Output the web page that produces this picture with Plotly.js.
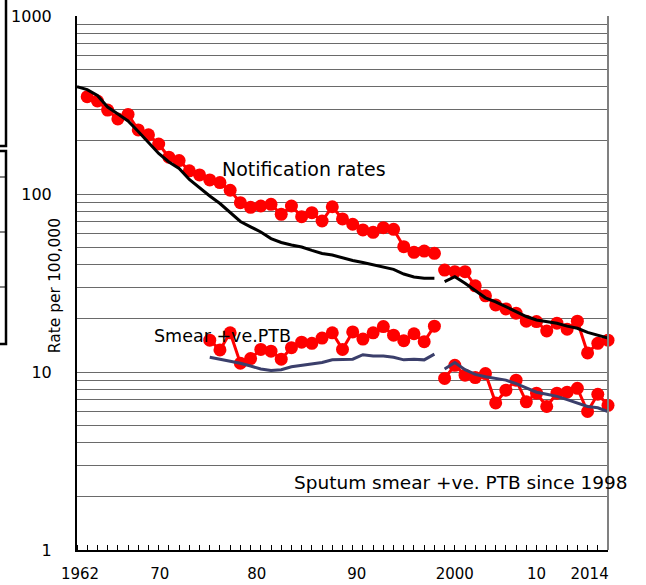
<!DOCTYPE html>
<html>
<head>
<meta charset="utf-8">
<script src="https://cdn.plot.ly/plotly-3.0.1.min.js"></script>
<style>html,body{margin:0;padding:0;background:#fff;}#chart{width:646px;height:585px;}</style>
</head>
<body>
<div id="chart"></div>
<script>
function range(a, b) { var r = []; for (var y = a; y <= b; y++) r.push(y); return r; }

// Category slots of the x axis (1997 is absent in the source chart)
var axisYears = range(1961, 1996).concat(range(1998, 2014));

// Notification rates, red dots (two periods)
var notifYearsA = range(1962, 1996);
var notifA = [352,333,296,264,280,229,215,191,161,154,135,128,120,116,105,89.4,84.2,85.6,87.5,76.9,85.6,74.6,78.5,70.5,84.8,72.4,67.6,62.8,60.9,64.7,63.3,50.6,47.0,47.8,46.4];
var notifYearsB = range(1998, 2014);
var notifB = [37.4,36.6,36.6,30.5,26.8,23.8,22.6,21.4,19.3,19.2,17.0,18.8,17.4,19.3,12.8,14.5,15.1];

// Black trend line
var trendYearsA = range(1961, 1996);
var trendA = [400.6,386,357.6,308,281.5,257.1,224.4,193.4,168.9,151.3,139.1,120.6,108.1,97.4,88.4,78.7,70.1,65.4,61.2,56.2,53.4,51.7,50.4,48.2,46.3,45.4,43.7,42.3,41.2,39.9,38.9,37.7,35.5,34.2,33.6,33.6];
var trendYearsB = range(1998, 2014);
var trendB = [32.2,34.3,31.5,28.5,26.1,24.8,23.3,21.8,20.5,19.6,19.2,18.8,18.1,17.6,16.7,16.1,15.5];

// Smear +ve PTB, red dots
var smearYearsA = range(1974, 1996);
var smearA = [15.1,13.3,16.6,11.2,11.9,13.4,13.1,11.8,13.7,14.7,14.5,15.5,16.6,13.4,16.8,15.3,16.6,18.0,16.1,15.0,16.4,14.8,18.1];
var smearYearsB = range(1998, 2014);
var smearB = [9.2,10.9,9.6,9.3,9.8,6.7,7.9,9.0,6.8,7.6,6.4,7.6,7.7,8.1,6.0,7.5,6.5];

// Smear trend, dark blue line
var smearTrendA = [12.1,11.8,11.6,11.2,10.8,10.4,10.2,10.3,10.7,10.9,11.2,11.3,11.7,11.8,11.8,12.5,12.3,12.3,12.1,11.7,11.8,11.7,12.6];
var smearTrendB = [10.4,11.3,10.3,9.7,9.4,9.2,9.0,8.6,8.1,7.7,7.5,7.3,7.0,6.7,6.4,6.3,6.0];

// Tick labels
var xLabels = ['1962', '70', '80', '90', '2000', '10', '2014'];
var yLabelVals = [1, 10, 100, 1000];

function slots(years) { return years.map(function (y) { return axisYears.indexOf(y); }); }

var RED = '#ff0000', BLUE = '#3b3f6b';
function dots(years, vals) {
  return { x: slots(years), y: vals, type: 'scatter', mode: 'lines+markers', cliponaxis: false,
    line: { color: RED, width: 3 }, marker: { color: RED, size: 13 }, hoverinfo: 'skip' };
}
function line(years, vals, color) {
  return { x: slots(years), y: vals, type: 'scatter', mode: 'lines', cliponaxis: false,
    line: { color: color, width: 3 }, hoverinfo: 'skip' };
}

var traces = [
  dots(notifYearsA, notifA), dots(notifYearsB, notifB),
  dots(smearYearsA, smearA), dots(smearYearsB, smearB),
  line(trendYearsA, trendA, '#000'), line(trendYearsB, trendB, '#000'),
  line(smearYearsA, smearTrendA, BLUE), line(smearYearsB, smearTrendB, BLUE)
];

// y gridlines at 1..9 of every decade
var yGrid = [];
[1, 10, 100].forEach(function (d) { for (var k = 1; k <= 9; k++) yGrid.push(k * d); });
yGrid.push(1000);
var yText = yGrid.map(function (v) { return yLabelVals.indexOf(v) >= 0 ? String(v) : ''; });

var xLabelPos = [0.3, 8.1, 17.6, 27.4, 37.0, 45.0, 50.2];

var FONT = 'DejaVu Sans, Verdana, sans-serif';
var layout = {
  width: 646, height: 585,
  margin: { l: 77, r: 38, t: 16, b: 35, pad: 0 },
  paper_bgcolor: '#fff', plot_bgcolor: '#fff',
  showlegend: false,
  font: { family: FONT, color: '#000' },
  xaxis: {
    range: [0, 52], showgrid: false, zeroline: false,
    showline: true, linecolor: '#000', linewidth: 2,
    tickmode: 'array', tickvals: xLabelPos, ticktext: xLabels, ticks: '',
    tickfont: { size: 15, family: FONT, color: '#000' }, ticklabelstandoff: 9,
    minor: { tickmode: 'linear', tick0: 0, dtick: 1, ticks: 'inside', ticklen: 5, tickcolor: '#000', tickwidth: 1, showgrid: false }
  },
  yaxis: {
    type: 'log', range: [0, 3], zeroline: false,
    tickmode: 'array', tickvals: yGrid, ticktext: yText, ticks: '',
    showgrid: true, gridcolor: '#6a6a6a', gridwidth: 1,
    showline: true, linecolor: '#000', linewidth: 2,
    tickfont: { size: 16, family: FONT, color: '#000' }, ticklabelstandoff: 20
  },
  shapes: [
    { type: 'line', xref: 'paper', yref: 'paper', x0: 1, x1: 1, y0: 0, y1: 1, line: { color: '#808080', width: 2 } },
    // cut-off boxes at the left edge
    { type: 'rect', xref: 'paper', yref: 'paper', x0: -0.17, x1: -0.1337, y0: 0.7566, y1: 1.05, line: { color: '#000', width: 2.5 } },
    { type: 'rect', xref: 'paper', yref: 'paper', x0: -0.17, x1: -0.1337, y0: 0.3858, y1: 0.7472, line: { color: '#000', width: 2.5 } },
    { type: 'line', xref: 'paper', yref: 'paper', x0: -0.1450, x1: -0.1337, y0: 0.6985, y1: 0.6985, line: { color: '#000', width: 1 } },
    { type: 'line', xref: 'paper', yref: 'paper', x0: -0.1450, x1: -0.1337, y0: 0.5955, y1: 0.5955, line: { color: '#000', width: 1 } },
    { type: 'line', xref: 'paper', yref: 'paper', x0: -0.1450, x1: -0.1337, y0: 0.4925, y1: 0.4925, line: { color: '#000', width: 1 } }
  ],
  annotations: [
    { text: 'Notification rates', xref: 'paper', yref: 'paper', x: 0.4266, y: 0.7135, xanchor: 'center', yanchor: 'middle', showarrow: false, font: { size: 19, family: FONT, color: '#000' } },
    { text: 'Smear +ve.PTB', xref: 'paper', yref: 'paper', x: 0.1412, y: 0.4007, xanchor: 'left', yanchor: 'middle', showarrow: false, font: { size: 17.5, family: FONT, color: '#000' } },
    { text: 'Sputum smear +ve. PTB since 1998', xref: 'paper', yref: 'paper', x: 0.4040, y: 0.1255, xanchor: 'left', yanchor: 'middle', showarrow: false, font: { size: 18.5, family: FONT, color: '#000' } },
    { text: 'Rate per 100,000', xref: 'paper', yref: 'paper', x: -0.0414, y: 0.494, xanchor: 'center', yanchor: 'middle', textangle: -90, showarrow: false, font: { size: 15.5, family: FONT, color: '#000' } }
  ]
};

Plotly.newPlot('chart', traces, layout, { staticPlot: true, displayModeBar: false });
</script>
</body>
</html>
